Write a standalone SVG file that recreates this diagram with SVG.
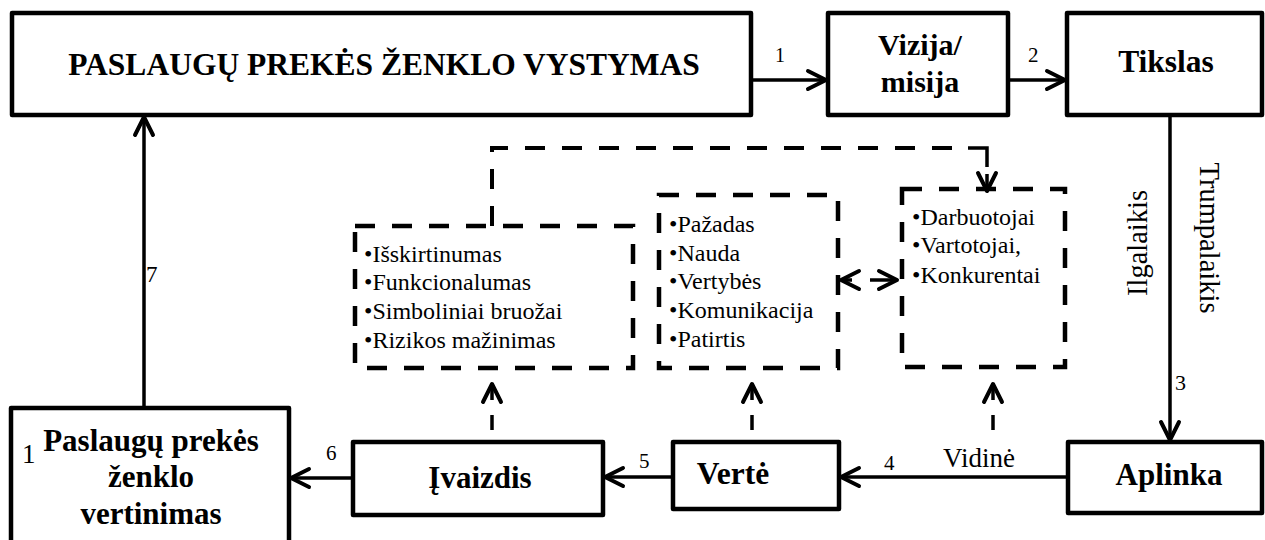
<svg xmlns="http://www.w3.org/2000/svg" width="1265" height="540" viewBox="0 0 1265 540">
<defs>
<style>
.box{fill:#fff;stroke:#000;stroke-width:4.5;stroke-linejoin:round}
.dbox{fill:none;stroke:#000;stroke-width:4.5;stroke-dasharray:20 17}
.b{font-family:"Liberation Serif","Times New Roman",serif;font-weight:bold;fill:#000;text-anchor:middle}
.r{font-family:"Liberation Serif","Times New Roman",serif;fill:#000}
.li{font-family:"Liberation Serif","Times New Roman",serif;font-size:24px;fill:#000}
.c{fill:none;stroke:#000;stroke-width:3.5}
.cd{fill:none;stroke:#000;stroke-width:4;stroke-dasharray:20 17}
</style>
<marker id="arr" viewBox="0 0 24 24" refX="21" refY="12" markerWidth="24" markerHeight="24" markerUnits="userSpaceOnUse" orient="auto">
<path d="M3,3 L21,12 L3,21" fill="none" stroke="#000" stroke-width="4" stroke-linecap="round" stroke-linejoin="round"/>
</marker>
</defs>

<g id="connectors">
<line class="c" x1="752" y1="80" x2="826" y2="80" marker-end="url(#arr)"/>
<line class="c" x1="1008" y1="80" x2="1065" y2="80" marker-end="url(#arr)"/>
<line class="c" x1="1170" y1="115" x2="1170" y2="440" marker-end="url(#arr)"/>
<line class="c" x1="1068" y1="477" x2="841" y2="477" marker-end="url(#arr)"/>
<line class="c" x1="673" y1="477" x2="605" y2="477" marker-end="url(#arr)"/>
<line class="c" x1="353" y1="478" x2="291" y2="478" marker-end="url(#arr)"/>
<line class="c" x1="144" y1="408" x2="144" y2="117" marker-end="url(#arr)"/>
<path class="cd" d="M492,226 V148 H965"/>
<path class="c" stroke-width="4" d="M968,148 H987 V167"/>
<line class="c" x1="987" y1="174" x2="987" y2="191" stroke-width="4" marker-end="url(#arr)"/>
<line class="c" x1="852" y1="280" x2="841" y2="280" stroke-width="4" marker-end="url(#arr)"/>
<line class="c" x1="870" y1="280" x2="897" y2="280" stroke-width="4" marker-end="url(#arr)"/>
<line class="c" x1="492" y1="430" x2="492" y2="415" stroke-width="4"/>
<line class="c" x1="492" y1="400" x2="492" y2="384" stroke-width="4" marker-end="url(#arr)"/>
<line class="c" x1="752" y1="430" x2="752" y2="415" stroke-width="4"/>
<line class="c" x1="752" y1="400" x2="752" y2="384" stroke-width="4" marker-end="url(#arr)"/>
<line class="c" x1="993" y1="430" x2="993" y2="415" stroke-width="4"/>
<line class="c" x1="993" y1="400" x2="993" y2="384" stroke-width="4" marker-end="url(#arr)"/>
<text class="r" x="775" y="62" font-size="20">1</text>
<text class="r" x="1028" y="62" font-size="21">2</text>
<text class="r" x="1175" y="390" font-size="22">3</text>
<text class="r" x="884" y="470" font-size="21">4</text>
<text class="r" x="639" y="468" font-size="21">5</text>
<text class="r" x="326" y="460" font-size="21">6</text>
<text class="r" x="146" y="282" font-size="23">7</text>
<text class="r" x="943" y="467" font-size="27">Vidinė</text>
<text class="r" x="1147" y="243" font-size="28.5" text-anchor="middle" transform="rotate(-90 1147 243)">Ilgalaikis</text>
<text class="r" x="1200" y="238" font-size="28.5" text-anchor="middle" transform="rotate(90 1200 238)">Trumpalaikis</text>
</g>

<g id="n-vystymas">
<rect class="box" x="12" y="13" width="739" height="102"/>
<text class="b" x="384" y="75" font-size="31.5">PASLAUGŲ PREKĖS ŽENKLO VYSTYMAS</text>
</g>
<g id="n-vizija">
<rect class="box" x="828" y="13" width="180" height="102"/>
<text class="b" x="920" y="55" font-size="30">Vizija/</text>
<text class="b" x="920" y="92" font-size="30">misija</text>
</g>
<g id="n-tikslas">
<rect class="box" x="1067" y="13" width="195" height="102"/>
<text class="b" x="1166" y="72" font-size="31.5">Tikslas</text>
</g>
<g id="n-aplinka">
<rect class="box" x="1068" y="442" width="194" height="71"/>
<text class="b" x="1169" y="485" font-size="31">Aplinka</text>
</g>
<g id="n-verte">
<rect class="box" x="673" y="442" width="166" height="67"/>
<text class="b" x="733" y="484" font-size="31.5">Vertė</text>
</g>
<g id="n-ivaizdis">
<rect class="box" x="353" y="442" width="250" height="73"/>
<text class="b" x="480" y="488" font-size="31">Įvaizdis</text>
</g>
<g id="n-vertinimas">
<rect class="box" x="11" y="408" width="278" height="140"/>
<text class="b" x="151" y="451" font-size="31">Paslaugų prekės</text>
<text class="b" x="151" y="487" font-size="31">ženklo</text>
<text class="b" x="151" y="524" font-size="31">vertinimas</text>
<text class="r" x="22" y="463" font-size="27">1</text>
</g>
<g id="n-ivaizdis-items">
<rect class="dbox" x="355" y="226" width="278" height="142"/>
<text class="li" x="364" y="262">•Išskirtinumas</text>
<text class="li" x="364" y="290">•Funkcionalumas</text>
<text class="li" x="364" y="319">•Simboliniai bruožai</text>
<text class="li" x="364" y="348">•Rizikos mažinimas</text>
</g>
<g id="n-verte-items">
<rect class="dbox" x="659" y="195" width="179" height="173"/>
<text class="li" x="669" y="232">•Pažadas</text>
<text class="li" x="669" y="261">•Nauda</text>
<text class="li" x="669" y="289">•Vertybės</text>
<text class="li" x="669" y="318">•Komunikacija</text>
<text class="li" x="669" y="347">•Patirtis</text>
</g>
<g id="n-aplinka-items">
<rect class="dbox" x="902" y="189" width="163" height="178"/>
<text class="li" x="912" y="225">•Darbuotojai</text>
<text class="li" x="912" y="253">•Vartotojai,</text>
<text class="li" x="912" y="283">•Konkurentai</text>
</g>
</svg>
